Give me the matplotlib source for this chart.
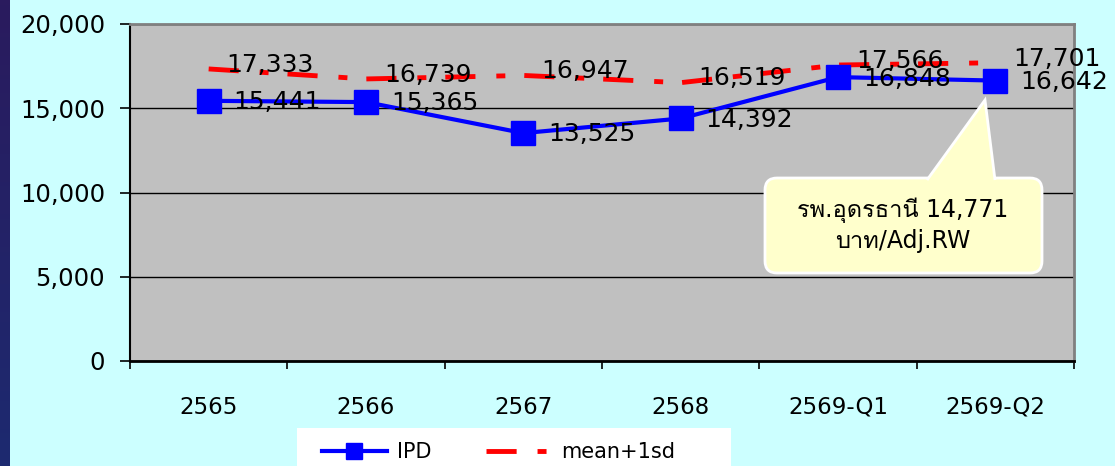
import numpy as np
import matplotlib
matplotlib.use("Agg")
import matplotlib.pyplot as plt
from matplotlib import font_manager
from matplotlib.ft2font import FT2Font
from matplotlib.patches import FancyBboxPatch, Polygon, Rectangle
from matplotlib.ticker import FuncFormatter

# data
categories = ['2565', '2566', '2567', '2568', '2569-Q1', '2569-Q2']
ipd = [15441, 15365, 13525, 14392, 16848, 16642]
mean_1sd = [17333, 16739, 16947, 16519, 17566, 17701]
callout_text = 'รพ.อุดรธานี 14,771\nบาท/Adj.RW'

# find a font that has thai glyphs
thai_family = None
for f in font_manager.fontManager.ttflist:
    try:
        if 0x0E23 in FT2Font(f.fname).get_charmap():
            thai_family = f.name
            break
    except Exception:
        pass
fam = ['DejaVu Sans'] if thai_family is None else ['DejaVu Sans', thai_family]
plt.rcParams['font.family'] = fam

W, H = 1115, 466
fig = plt.figure(figsize=(W / 100, H / 100), dpi=100, facecolor='#ccffff')

# dark slide strip on the left
strip = fig.add_axes([0, 0, 10 / W, 1])
grad = np.linspace(0, 1, 100).reshape(-1, 1)
strip.imshow(grad, aspect='auto', cmap=matplotlib.colors.LinearSegmentedColormap.from_list('s', ['#2a1b5e', '#1d2a70']))
strip.axis('off')

ax = fig.add_axes([130 / W, 1 - 361 / H, (1074 - 130) / W, (361 - 24) / H])
ax.set_facecolor('#c0c0c0')

x = np.arange(len(categories))
ax.plot(x, ipd, color='#0000ff', lw=3, marker='s', markersize=17, markerfacecolor='#0000ff',
        markeredgecolor='#0000ff', label='IPD', zorder=4)
red, = ax.plot(x, mean_1sd, color='#ff0000', lw=3.5, label='mean+1sd', zorder=3)
red.set_dashes((6.2, 4.3, 1.85, 3.9))
red.set_dash_capstyle('butt')

for xi, v in zip(x, ipd):
    ax.annotate(f'{v:,}', (xi, v), xytext=(18, -1), textcoords='offset points',
                va='center', ha='left', fontsize=18, zorder=6)
for xi, v in zip(x, mean_1sd):
    ax.annotate(f'{v:,}', (xi, v), xytext=(13, 3), textcoords='offset points',
                va='center', ha='left', fontsize=18, zorder=6)

ax.set_xlim(-0.5, len(categories) - 0.5)
ax.set_ylim(0, 20000)
ax.set_yticks(np.arange(0, 20001, 5000))
ax.yaxis.set_major_formatter(FuncFormatter(lambda v, p: f'{int(v):,}'))
ax.grid(axis='y', color='black', lw=1)
ax.set_axisbelow(True)
ax.set_xticks(x)
ax.set_xticklabels(categories, fontsize=16.5)
ax.set_xticks(np.arange(-0.5, len(categories)), minor=True)
ax.tick_params(axis='x', which='major', length=0, pad=25)
ax.tick_params(axis='x', which='minor', length=6, width=1.2, direction='out')
ax.tick_params(axis='y', length=7, width=1.2, pad=11, labelsize=17.5)

for s in ['top', 'right']:
    ax.spines[s].set_color('#808080')
    ax.spines[s].set_linewidth(2)
ax.spines['left'].set_linewidth(1.5)
ax.spines['bottom'].set_linewidth(2)

# callout (pixel -> inch coords)
tr = fig.dpi_scale_trans
box = FancyBboxPatch((765 / 100, (H - 273) / 100), 277 / 100, 95 / 100,
                     boxstyle='round,pad=0,rounding_size=0.12', transform=tr,
                     facecolor='#ffffcc', edgecolor='white', lw=2, clip_on=False, zorder=8)
ax.add_patch(box)
ytop = (H - 178) / 100
ptr = Polygon([(927 / 100, ytop - 0.02), (985 / 100, (H - 100) / 100), (995 / 100, ytop - 0.02)],
              closed=False, transform=tr, facecolor='#ffffcc', edgecolor='white', lw=2,
              clip_on=False, zorder=9)
ax.add_patch(ptr)
fig.text(903 / 100, (H - 225) / 100, callout_text, transform=tr, ha='center', va='center',
         fontsize=17, linespacing=1.3, zorder=10)

# legend
fig.patches.append(Rectangle((297 / W, 0), (731 - 297) / W, (H - 428) / H, transform=fig.transFigure,
                             facecolor='white', edgecolor='none', zorder=1))
fig.legend(loc='center left', bbox_to_anchor=(322 / W, 14 / H), ncol=2, frameon=False,
           fontsize=15, handlelength=3.1, handletextpad=0.5, columnspacing=2.6,
           borderpad=0, borderaxespad=0, markerscale=0.7)

fig.savefig('out.png', dpi=100, facecolor=fig.get_facecolor())
